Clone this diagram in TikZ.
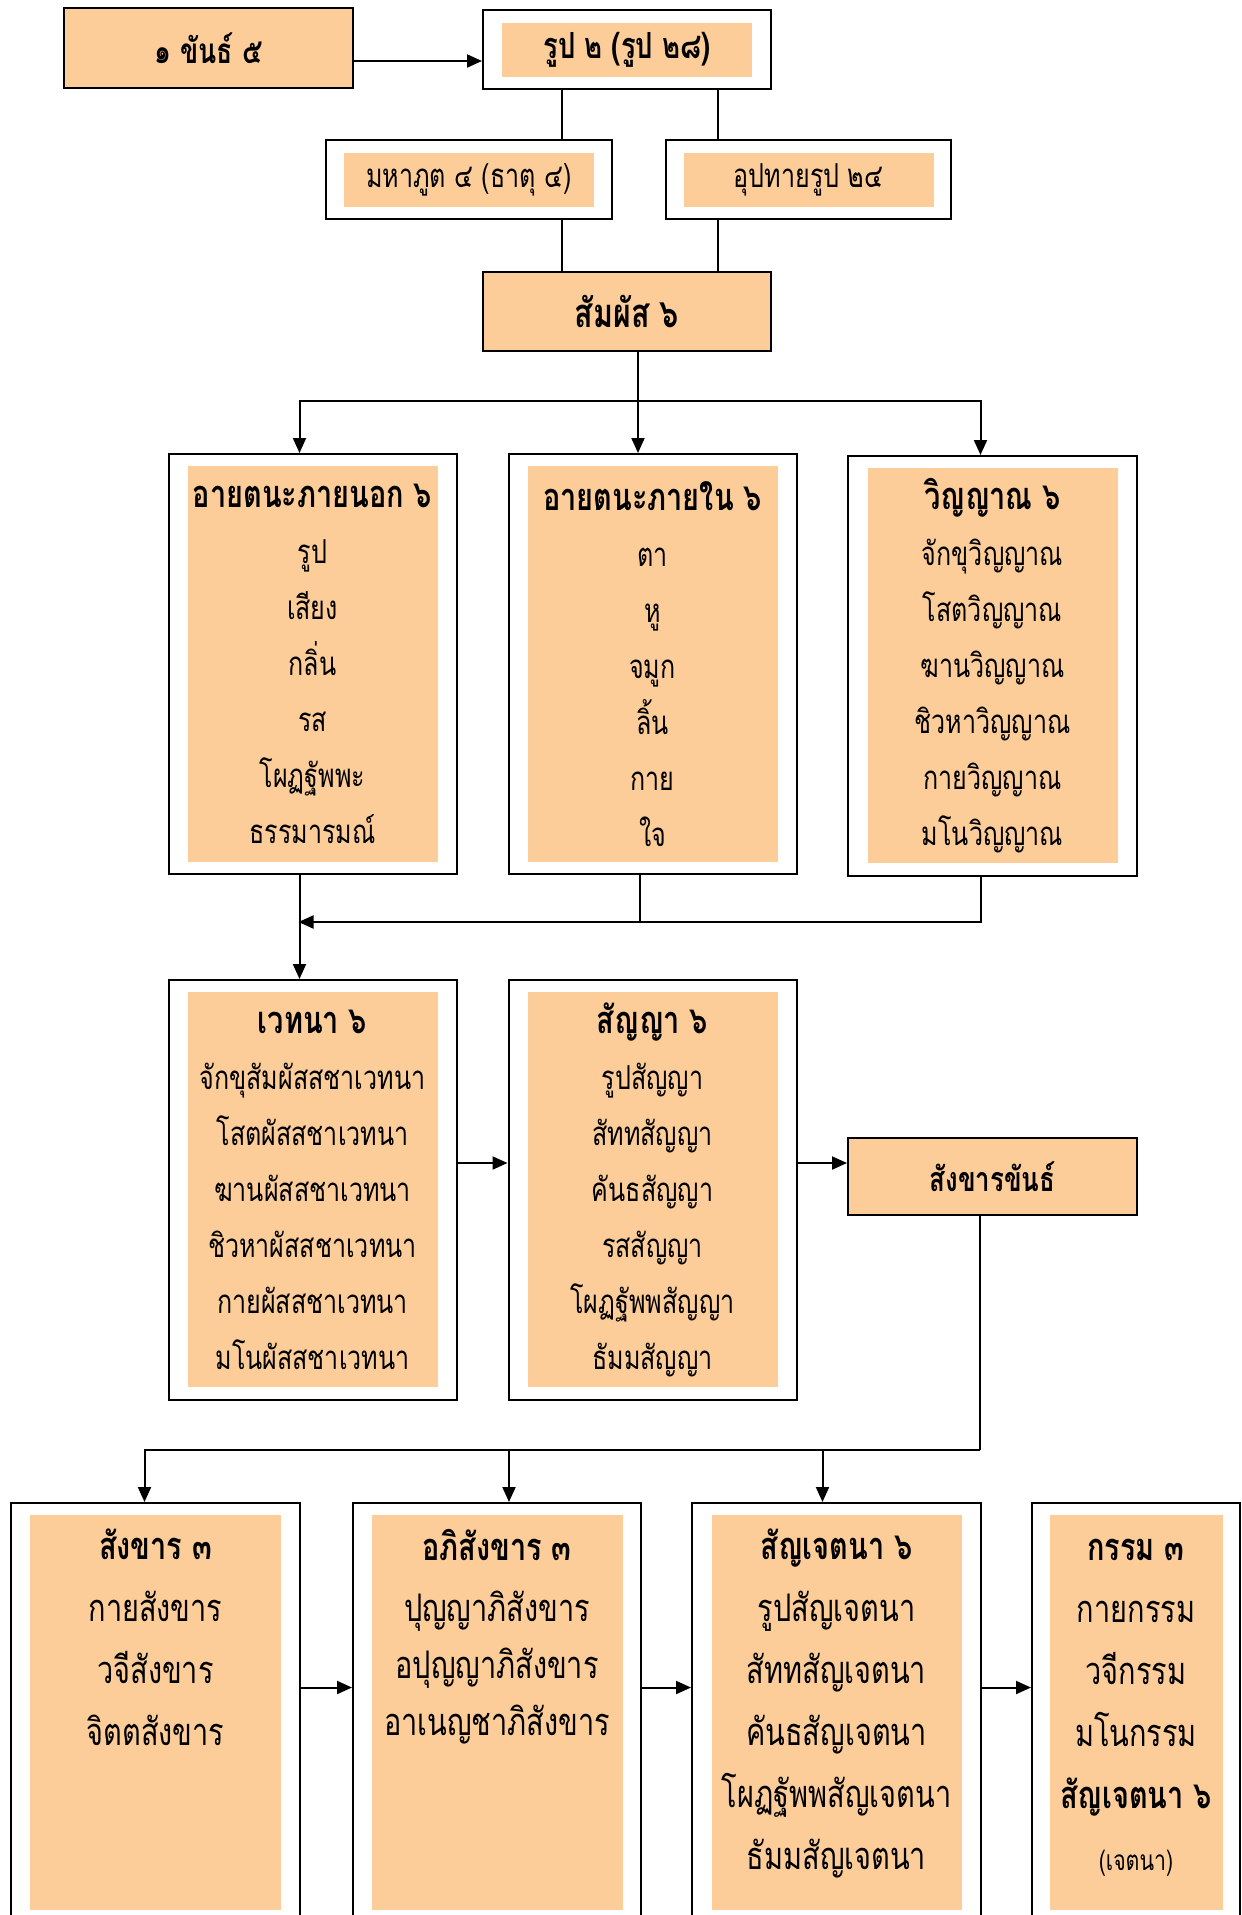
\documentclass[tikz,border=0pt]{standalone}
\usepackage{fontspec}
\setmainfont{Loma}[Script=Thai, FakeStretch=0.76]
\usetikzlibrary{arrows.meta}
\definecolor{peach}{RGB}{252,204,153}
\newcommand{\hd}[1]{{\fontsize{38}{56}\selectfont\bfseries #1}}
\tikzset{
  frame/.style={draw=black, fill=white, line width=2pt, inner sep=0pt, anchor=north west, minimum width=288pt},
  fullbox/.style={frame, fill=peach, font=\fontsize{35}{40}\selectfont},
  panel/.style={fill=peach, inner sep=0pt, minimum width=250pt, anchor=north, align=center, font=\fontsize{33}{56}\selectfont},
  list/.style={align=center, anchor=north, inner sep=0pt, font=\fontsize{38}{62}\selectfont},
  link/.style={line width=2pt},
  arrow/.style={link, -{Triangle[length=15pt,width=13pt]}},
}
\begin{document}
\begin{tikzpicture}[x=1pt, y=-1pt]
	\useasboundingbox (0,0) rectangle (1242,1915);
	\clip (0,0) rectangle (1242,1915);
	% top
	\node[fullbox, minimum width=289pt, minimum height=80pt] (khan) at (63,7) {\bfseries ๑ ขันธ์ ๕};
	\node[frame, minimum height=79pt] (rupa) at (482,9) {};
	\node[panel, minimum height=54pt, font=\fontsize{36}{40}\selectfont] (rupa-in) at ([yshift=-14pt]rupa.north) {\bfseries รูป ๒ (รูป ๒๘)};
	\node[frame, minimum width=286pt, minimum height=79pt] (mahabhuta) at (325,139) {};
	\node[panel, minimum height=54pt] (mahabhuta-in) at ([yshift=-14pt]mahabhuta.north) {มหาภูต ๔ (ธาตุ ๔)};
	\node[frame, minimum width=285pt, minimum height=79pt] (upadaya) at (665,139) {};
	\node[panel, minimum height=54pt] (upadaya-in) at ([yshift=-14pt]upadaya.north) {อุปทายรูป ๒๔};
	\node[fullbox, minimum height=79pt, font=\fontsize{40}{44}\selectfont] (phassa) at (482,271) {\bfseries สัมผัส ๖};
	\draw[arrow] ([yshift=-13pt]khan.east) -- ([yshift=-13pt]khan.east -| rupa.west);
	\draw[link] ([xshift=-65pt]rupa.south) -- ([xshift=-65pt]rupa.south |- mahabhuta.north);
	\draw[link] ([xshift=91pt]rupa.south) -- ([xshift=91pt]rupa.south |- upadaya.north);
	\draw[link] ([xshift=-65pt]phassa.north |- mahabhuta.south) -- ([xshift=-65pt]phassa.north);
	\draw[link] ([xshift=91pt]phassa.north |- upadaya.south) -- ([xshift=91pt]phassa.north);
	% ayatana and vinnana
	\node[frame, minimum height=420pt] (bahira) at (167.5,453) {};
	\node[panel, minimum height=396pt] (bahira-in) at ([yshift=-13pt]bahira.north) {\hd{อายตนะภายนอก ๖}\\รูป\\เสียง\\กลิ่น\\รส\\โผฏฐัพพะ\\ธรรมารมณ์};
	\node[frame, minimum height=420pt] (ajjhatta) at (507.5,453) {};
	\node[panel, minimum height=396pt] (ajjhatta-in) at ([yshift=-13pt]ajjhatta.north) {\hd{อายตนะภายใน ๖}\\ตา\\หู\\จมูก\\ลิ้น\\กาย\\ใจ};
	\node[frame, minimum width=289pt, minimum height=420pt] (vinnana) at (847,455) {};
	\node[panel, minimum height=395pt] (vinnana-in) at ([yshift=-13pt]vinnana.north) {\hd{วิญญาณ ๖}\\จักขุวิญญาณ\\โสตวิญญาณ\\ฆานวิญญาณ\\ชิวหาวิญญาณ\\กายวิญญาณ\\มโนวิญญาณ};
	\coordinate (fork) at (638,401);
	\draw[link] (phassa.south -| fork) -- (fork);
	\draw[arrow] (fork) -| ([xshift=-13pt]bahira.north);
	\draw[arrow] (fork) -- (fork |- ajjhatta.north);
	\draw[arrow] (fork) -| ([xshift=-12pt]vinnana.north);
	% vedana and sanna
	\node[frame, minimum height=420pt] (vedana) at (167.5,979) {};
	\node[panel, minimum height=395pt] (vedana-in) at ([yshift=-13pt]vedana.north) {\hd{เวทนา ๖}\\จักขุสัมผัสสชาเวทนา\\โสตผัสสชาเวทนา\\ฆานผัสสชาเวทนา\\ชิวหาผัสสชาเวทนา\\กายผัสสชาเวทนา\\มโนผัสสชาเวทนา};
	\node[frame, minimum height=420pt] (sanna) at (507.5,979) {};
	\node[panel, minimum height=395pt] (sanna-in) at ([yshift=-13pt]sanna.north) {\hd{สัญญา ๖}\\รูปสัญญา\\สัททสัญญา\\คันธสัญญา\\รสสัญญา\\โผฏฐัพพสัญญา\\ธัมมสัญญา};
	\node[fullbox, minimum width=289pt, minimum height=77pt, font=\fontsize{34}{40}\selectfont] (khandha) at (847,1137) {\bfseries สังขารขันธ์};
	\coordinate (merge) at (298.5,922);
	\draw[arrow] ([xshift=-13pt]bahira.south) -- ([xshift=-13pt]vedana.north);
	\draw[link] ([xshift=-13pt]ajjhatta.south) -- ([xshift=-13pt]ajjhatta.south |- merge);
	\draw[arrow] ([xshift=-12pt]vinnana.south) |- (merge);
	\draw[arrow] ([yshift=27pt]vedana.east) -- ([yshift=27pt]vedana.east -| sanna.west);
	\draw[arrow] ([yshift=27pt]sanna.east) -- ([yshift=27pt]sanna.east -| khandha.west);
	% bottom row
	\node[frame, minimum width=289pt, minimum height=425pt] (sankhara) at (10,1502) {};
	\node[panel, minimum width=251pt, minimum height=395pt] (sankhara-in) at ([yshift=-13pt]sankhara.north) {};
	\node[list] (sankhara-txt) at ([yshift=-14pt]sankhara-in.north) {\hd{สังขาร ๓}\\กายสังขาร\\วจีสังขาร\\จิตตสังขาร};
	\node[frame, minimum height=425pt] (abhisankhara) at (352,1502) {};
	\node[panel, minimum width=251pt, minimum height=395pt] (abhisankhara-in) at ([yshift=-13pt]abhisankhara.north) {};
	\node[list, font=\fontsize{38}{57}\selectfont] (abhisankhara-txt) at ([yshift=-14pt]abhisankhara-in.north) {\hd{อภิสังขาร ๓}\\[4pt]ปุญญาภิสังขาร\\อปุญญาภิสังขาร\\อาเนญชาภิสังขาร};
	\node[frame, minimum width=289pt, minimum height=425pt] (sancetana) at (691,1502) {};
	\node[panel, minimum height=395pt] (sancetana-in) at ([yshift=-13pt]sancetana.north) {};
	\node[list] (sancetana-txt) at ([yshift=-14pt]sancetana-in.north) {\hd{สัญเจตนา ๖}\\รูปสัญเจตนา\\สัททสัญเจตนา\\คันธสัญเจตนา\\โผฏฐัพพสัญเจตนา\\ธัมมสัญเจตนา};
	\node[frame, minimum width=208pt, minimum height=425pt] (kamma) at (1031,1502) {};
	\node[panel, minimum width=173pt, minimum height=395pt] (kamma-in) at ([yshift=-13pt]kamma.north) {};
	\node[list] (kamma-txt) at ([yshift=-24pt]kamma-in.north) {\hd{กรรม ๓}\\กายกรรม\\วจีกรรม\\มโนกรรม\\\hd{สัญเจตนา ๖}\\{\fontsize{28}{30}\selectfont (เจตนา)}};
	\coordinate (fork2) at (980,1450);
	\draw[link] (khandha.south -| fork2) -- (fork2);
	\draw[arrow] (fork2) -| ([xshift=-11pt]sankhara.north);
	\draw[arrow] ([xshift=12pt]abhisankhara.north |- fork2) -- ([xshift=12pt]abhisankhara.north);
	\draw[arrow] ([xshift=-14pt]sancetana.north |- fork2) -- ([xshift=-14pt]sancetana.north);
	\draw[arrow] ([yshift=28pt]sankhara.east) -- ([yshift=28pt]sankhara.east -| abhisankhara.west);
	\draw[arrow] ([yshift=28pt]abhisankhara.east) -- ([yshift=28pt]abhisankhara.east -| sancetana.west);
	\draw[arrow] ([yshift=28pt]sancetana.east) -- ([yshift=28pt]sancetana.east -| kamma.west);
\end{tikzpicture}
\end{document}
